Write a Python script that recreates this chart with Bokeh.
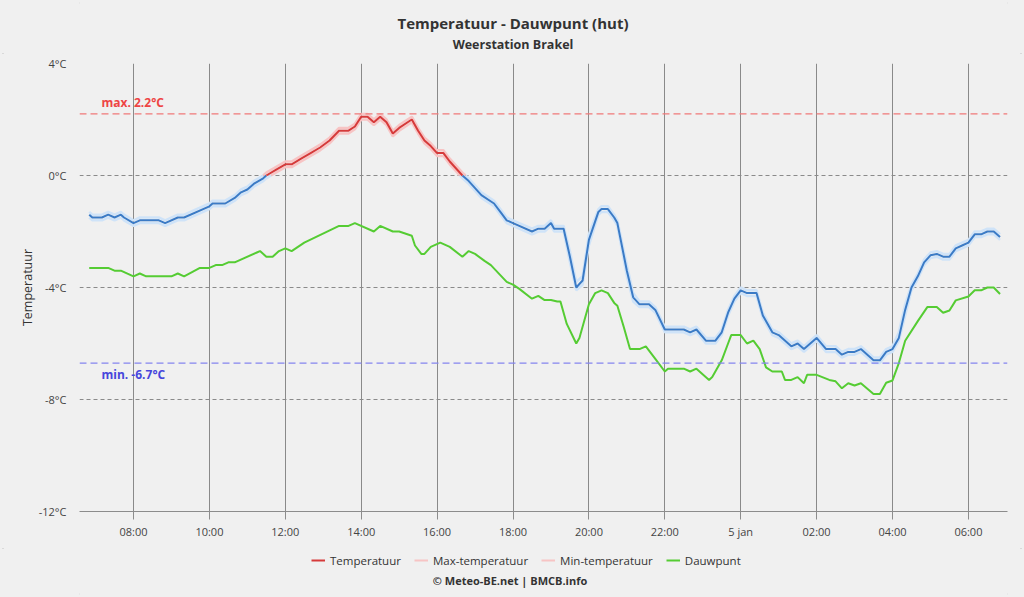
import numpy as np
from bokeh.plotting import figure
from bokeh.layouts import column
from bokeh.models import (Range1d, FixedTicker, PrintfTickFormatter, Span, Label,
                          Legend, LegendItem)
from bokeh.embed import file_html
from bokeh.resources import INLINE

# ---------------- data ----------------
title_text = "Temperatuur - Dauwpunt (hut)"
subtitle_text = "Weerstation Brakel"
credit_text = "© Meteo-BE.net | BMCB.info"
y_label = "Temperatuur"

tick_hours = [8, 10, 12, 14, 16, 18, 20, 22, 24, 26, 28, 30]
tick_labels = ["08:00", "10:00", "12:00", "14:00", "16:00", "18:00", "20:00",
               "22:00", "5 jan", "02:00", "04:00", "06:00"]
y_ticks = [-12, -8, -4, 0, 4]

temp_times = [
    "06:50", "06:55", "07:10", "07:20", "07:30", "07:40", "07:45", "08:00", "08:10", "08:40",
    "08:50", "09:10", "09:20", "10:00", "10:05", "10:25", "10:40", "10:50", "11:00", "11:10",
    "11:25", "11:30", "11:45", "12:00", "12:10", "12:25", "12:40", "12:55", "13:10", "13:25",
    "13:40", "13:50", "14:00", "14:10", "14:20", "14:30", "14:40", "14:50", "15:00", "15:20",
    "15:30", "15:40", "15:50", "16:00", "16:10", "16:20", "16:40", "16:50", "17:10", "17:30",
    "17:40", "17:50", "18:00", "18:30", "18:40", "18:50", "19:00", "19:05", "19:20", "19:30",
    "19:40", "19:50", "20:00", "20:15", "20:20", "20:30", "20:40", "20:45", "21:00", "21:10",
    "21:20", "21:35", "21:45", "22:00", "22:30", "22:40", "22:50", "23:05", "23:20", "23:30",
    "23:40", "23:50", "00:00", "00:10", "00:25", "00:35", "00:50", "01:00", "01:20", "01:30",
    "01:40", "02:00", "02:15", "02:30", "02:40", "02:50", "03:00", "03:10", "03:30", "03:40",
    "03:50", "04:00", "04:10", "04:20", "04:30", "04:40", "04:50", "05:00", "05:10", "05:20",
    "05:30", "05:40", "05:50", "06:00", "06:10", "06:20", "06:30", "06:40", "06:50",
]
temperatuur = [
    -1.4, -1.5, -1.5, -1.4, -1.5, -1.4, -1.5, -1.7, -1.6, -1.6,
    -1.7, -1.5, -1.5, -1.1, -1.0, -1.0, -0.8, -0.6, -0.5, -0.3,
    -0.1, 0.0, 0.2, 0.4, 0.4, 0.6, 0.8, 1.0, 1.25, 1.6,
    1.6, 1.75, 2.1, 2.1, 1.9, 2.1, 1.9, 1.5, 1.7, 2.0,
    1.6, 1.25, 1.05, 0.8, 0.8, 0.5, 0.0, -0.2, -0.7, -1.0,
    -1.3, -1.6, -1.7, -2.0, -1.9, -1.9, -1.7, -1.9, -1.9, -2.9,
    -4.0, -3.75, -2.3, -1.3, -1.2, -1.2, -1.5, -1.7, -3.4, -4.35,
    -4.6, -4.6, -4.8, -5.5, -5.5, -5.6, -5.5, -5.9, -5.9, -5.6,
    -4.9, -4.4, -4.1, -4.2, -4.2, -5.0, -5.6, -5.7, -6.1, -6.0,
    -6.2, -5.8, -6.2, -6.2, -6.4, -6.3, -6.3, -6.2, -6.6, -6.6,
    -6.3, -6.2, -5.8, -4.8, -4.0, -3.6, -3.1, -2.85, -2.8, -2.9,
    -2.9, -2.6, -2.5, -2.4, -2.1, -2.1, -2.0, -2.0, -2.2,
]
max_temperatuur = [
    -1.3, -1.4, -1.4, -1.3, -1.4, -1.3, -1.4, -1.6, -1.5, -1.5,
    -1.6, -1.4, -1.4, -1.0, -0.9, -0.9, -0.7, -0.5, -0.4, -0.2,
    0.0, 0.1, 0.3, 0.5, 0.5, 0.7, 0.9, 1.1, 1.35, 1.7,
    1.7, 1.85, 2.2, 2.2, 2.0, 2.2, 2.0, 1.6, 1.8, 2.1,
    1.7, 1.35, 1.15, 0.9, 0.9, 0.6, 0.1, -0.1, -0.6, -0.9,
    -1.2, -1.5, -1.6, -1.9, -1.8, -1.8, -1.6, -1.8, -1.8, -2.7,
    -3.8, -3.6, -2.1, -1.2, -1.1, -1.1, -1.4, -1.6, -3.2, -4.2,
    -4.5, -4.5, -4.7, -5.4, -5.4, -5.5, -5.4, -5.8, -5.8, -5.5,
    -4.8, -4.3, -4.0, -4.1, -4.1, -4.9, -5.5, -5.6, -6.0, -5.9,
    -6.1, -5.7, -6.1, -6.1, -6.3, -6.2, -6.2, -6.1, -6.5, -6.5,
    -6.2, -6.1, -5.6, -4.6, -3.9, -3.5, -3.0, -2.75, -2.7, -2.8,
    -2.8, -2.5, -2.4, -2.3, -2.0, -2.0, -1.9, -1.9, -2.1,
]
min_temperatuur = [
    -1.5, -1.6, -1.6, -1.5, -1.6, -1.5, -1.6, -1.8, -1.7, -1.7,
    -1.8, -1.6, -1.6, -1.2, -1.1, -1.1, -0.9, -0.7, -0.6, -0.4,
    -0.2, -0.1, 0.1, 0.3, 0.3, 0.5, 0.7, 0.9, 1.15, 1.5,
    1.5, 1.65, 2.0, 2.0, 1.8, 2.0, 1.8, 1.4, 1.6, 1.9,
    1.5, 1.15, 0.95, 0.7, 0.7, 0.4, -0.1, -0.3, -0.8, -1.1,
    -1.4, -1.7, -1.8, -2.1, -2.0, -2.0, -1.8, -2.0, -2.0, -3.1,
    -4.1, -3.9, -2.5, -1.4, -1.3, -1.3, -1.6, -1.8, -3.6, -4.5,
    -4.7, -4.7, -4.9, -5.6, -5.6, -5.7, -5.6, -6.0, -6.0, -5.7,
    -5.0, -4.5, -4.2, -4.3, -4.3, -5.1, -5.7, -5.8, -6.2, -6.1,
    -6.3, -5.9, -6.3, -6.3, -6.5, -6.4, -6.4, -6.3, -6.7, -6.7,
    -6.4, -6.3, -5.9, -5.0, -4.1, -3.7, -3.2, -2.95, -2.9, -3.0,
    -3.0, -2.7, -2.6, -2.5, -2.2, -2.2, -2.1, -2.1, -2.3,
]

dew_times = [
    "06:50", "07:20", "07:30", "07:40", "08:00", "08:10", "08:20", "09:00", "09:10", "09:20",
    "09:45", "10:00", "10:10", "10:20", "10:30", "10:40", "11:15", "11:20", "11:30", "11:40",
    "11:50", "12:00", "12:10", "12:30", "13:25", "13:40", "13:50", "14:20", "14:30", "14:50",
    "15:00", "15:20", "15:25", "15:35", "15:40", "15:50", "16:05", "16:20", "16:40", "16:50",
    "17:00", "17:15", "17:25", "17:50", "18:00", "18:10", "18:30", "18:40", "18:50", "19:00",
    "19:10", "19:15", "19:25", "19:40", "19:45", "20:00", "20:10", "20:20", "20:30", "20:40",
    "20:45", "20:55", "21:05", "21:20", "21:30", "21:45", "22:00", "22:05", "22:30", "22:40",
    "22:50", "23:10", "23:15", "23:30", "23:40", "23:45", "00:00", "00:10", "00:20", "00:30",
    "00:40", "00:50", "01:05", "01:10", "01:20", "01:30", "01:40", "01:45", "02:00", "02:20",
    "02:30", "02:40", "02:50", "03:00", "03:10", "03:30", "03:40", "03:50", "04:00", "04:10",
    "04:20", "04:40", "04:55", "05:10", "05:20", "05:30", "05:40", "06:00", "06:10", "06:20",
    "06:30", "06:40", "06:50",
]
dauwpunt = [
    -3.3, -3.3, -3.4, -3.4, -3.6, -3.5, -3.6, -3.6, -3.5, -3.6,
    -3.3, -3.3, -3.2, -3.2, -3.1, -3.1, -2.75, -2.7, -2.9, -2.9,
    -2.7, -2.6, -2.7, -2.4, -1.8, -1.8, -1.7, -2.0, -1.8, -2.0,
    -2.0, -2.15, -2.5, -2.8, -2.8, -2.55, -2.4, -2.55, -2.9, -2.7,
    -2.8, -3.05, -3.2, -3.8, -3.9, -4.05, -4.4, -4.3, -4.45, -4.45,
    -4.5, -4.5, -5.3, -6.0, -5.8, -4.6, -4.2, -4.1, -4.2, -4.55,
    -4.65, -5.4, -6.2, -6.2, -6.1, -6.55, -7.0, -6.9, -6.9, -7.0,
    -6.9, -7.3, -7.2, -6.6, -6.0, -5.7, -5.7, -6.0, -5.9, -6.2,
    -6.85, -7.0, -7.0, -7.3, -7.3, -7.2, -7.42, -7.12, -7.12, -7.3,
    -7.35, -7.6, -7.42, -7.5, -7.42, -7.8, -7.8, -7.4, -7.32, -6.7,
    -5.9, -5.2, -4.7, -4.7, -4.9, -4.82, -4.46, -4.32, -4.1, -4.1,
    -4.0, -4.0, -4.23,
]

max_value = 2.2
min_value = -6.7

# ---------------- helpers ----------------
def to_hours(times):
    out, day, prev = [], 0, None
    for t in times:
        h, m = map(int, t.split(":"))
        raw = h + m / 60.0
        if prev is not None and raw < prev:
            day += 24
        prev = raw
        out.append(raw + day)
    return np.array(out)


def split_zero(xs, ys):
    rx, ry = [], []
    for i in range(len(xs)):
        if i > 0 and ((ys[i - 1] < 0 < ys[i]) or (ys[i - 1] > 0 > ys[i])):
            t = ys[i - 1] / (ys[i - 1] - ys[i])
            rx.append(xs[i - 1] + t * (xs[i] - xs[i - 1]))
            ry.append(0.0)
        rx.append(xs[i])
        ry.append(ys[i])
    ry = np.array(ry, dtype=float)
    above = np.where(ry >= 0, ry, np.nan)
    below = np.where(ry <= 0, ry, np.nan)
    return np.array(rx), above, below


def blank_fig(h):
    f = figure(width=1024, height=h, output_backend="svg", toolbar_location=None,
               x_range=Range1d(0, 1), y_range=Range1d(0, 1),
               x_axis_location=None, y_axis_location=None, min_border=0,
               background_fill_color=BG, border_fill_color=BG)
    f.outline_line_color = None
    f.grid.visible = False
    return f


FONT = "Open Sans"
BG = "#f0f0f0"
RED = "#d63a3a"
BLUE = "#3b7bc6"
PINK = "#f7c4c4"
LBLUE = "#cfe3f8"
GREEN = "#55cc33"
FRAME_LEFT = 79   # the column aligns every frame with the main chart's frame

tx = to_hours(temp_times)
dx = to_hours(dew_times)

# ---------------- header ----------------
p_top = blank_fig(53)
p_top.add_layout(Label(x=512.5 - FRAME_LEFT, y=31, x_units="screen", y_units="screen",
                       text=title_text, text_font=FONT, text_font_size="15px",
                       text_font_style="bold", text_color="#333333",
                       text_align="center", text_baseline="middle"))
p_top.add_layout(Label(x=512.5 - FRAME_LEFT, y=9, x_units="screen", y_units="screen",
                       text=subtitle_text, text_font=FONT, text_font_size="12.5px",
                       text_font_style="bold", text_color="#333333",
                       text_align="center", text_baseline="middle"))

# ---------------- main chart ----------------
p_main = figure(width=1024, height=495, output_backend="svg", toolbar_location=None,
                x_range=Range1d(6.577, 31.03), y_range=Range1d(-12, 4),
                min_border_left=FRAME_LEFT, min_border_right=17, min_border_top=10,
                min_border_bottom=37, background_fill_color=BG, border_fill_color=BG)
p_main.outline_line_color = None

p_main.xaxis.ticker = FixedTicker(ticks=tick_hours)
p_main.xaxis.major_label_overrides = {h: lab for h, lab in zip(tick_hours, tick_labels)}
p_main.xaxis.axis_line_color = "#8c8c8c"
p_main.xaxis.major_tick_line_color = "#8c8c8c"
p_main.xaxis.major_tick_out = 8
p_main.xaxis.major_tick_in = 0
p_main.xaxis.minor_tick_line_color = None
p_main.xaxis.major_label_standoff = 4
p_main.xaxis.major_label_text_font = FONT
p_main.xaxis.major_label_text_font_size = "11px"
p_main.xaxis.major_label_text_color = "#444444"

p_main.yaxis.ticker = FixedTicker(ticks=y_ticks)
p_main.yaxis.formatter = PrintfTickFormatter(format="%d°C")
p_main.yaxis.axis_line_color = None
p_main.yaxis.major_tick_line_color = None
p_main.yaxis.minor_tick_line_color = None
p_main.yaxis.major_label_standoff = 7
p_main.yaxis.major_label_text_font = FONT
p_main.yaxis.major_label_text_font_size = "11px"
p_main.yaxis.major_label_text_color = "#444444"
p_main.yaxis.axis_label = y_label
p_main.yaxis.axis_label_text_font = FONT
p_main.yaxis.axis_label_text_font_style = "normal"
p_main.yaxis.axis_label_text_font_size = "12.5px"
p_main.yaxis.axis_label_text_color = "#333333"
p_main.yaxis.axis_label_standoff = 0

p_main.xgrid.grid_line_color = "#8a8a8a"
p_main.xgrid.grid_line_width = 1
p_main.ygrid.grid_line_color = "#8a8a8a"
p_main.ygrid.grid_line_dash = "4 3"
p_main.ygrid.grid_line_width = 1

p_main.add_layout(Span(location=max_value, dimension="width", line_color="#f07878",
                       line_dash="7 4", line_width=1.3))
p_main.add_layout(Span(location=min_value, dimension="width", line_color="#8484ee",
                       line_dash="7 4", line_width=1.3))
p_main.add_layout(Label(x=22, x_units="screen", y=max_value, y_offset=3,
                        text=f"max. {max_value}°C", text_font=FONT, text_font_size="12px",
                        text_font_style="bold", text_color="#ee4444",
                        text_baseline="bottom"))
p_main.add_layout(Label(x=22, x_units="screen", y=min_value, y_offset=-3,
                        text=f"min. {min_value}°C", text_font=FONT, text_font_size="12px",
                        text_font_style="bold", text_color="#4646dc",
                        text_baseline="top"))

mx, mx_a, mx_b = split_zero(tx, max_temperatuur)
mn, mn_a, mn_b = split_zero(tx, min_temperatuur)
p_main.line(mx, mx_b, line_color=LBLUE, line_width=2.5)
p_main.line(mx, mx_a, line_color=PINK, line_width=2.5)
p_main.line(mn, mn_b, line_color=LBLUE, line_width=2.5)
p_main.line(mn, mn_a, line_color=PINK, line_width=2.5)

ttx, t_a, t_b = split_zero(tx, temperatuur)
p_main.line(ttx, t_b, line_color=BLUE, line_width=2)
p_main.line(ttx, t_a, line_color=RED, line_width=2)

p_main.line(dx, dauwpunt, line_color=GREEN, line_width=2)

# ---------------- legend + credit ----------------
p_bot = blank_fig(49)
# legend proxies: lines lying outside the visible (0..1) range, only their style is used
proxy_x = [2, 3]
proxy_y = [2, 2]
lg_t = p_bot.line(proxy_x, proxy_y, line_color=RED, line_width=2)
lg_max = p_bot.line(proxy_x, proxy_y, line_color=PINK, line_width=2)
lg_min = p_bot.line(proxy_x, proxy_y, line_color=PINK, line_width=2)
lg_dew = p_bot.line(proxy_x, proxy_y, line_color=GREEN, line_width=2)
legend = Legend(items=[
    LegendItem(label="Temperatuur", renderers=[lg_t]),
    LegendItem(label="Max-temperatuur", renderers=[lg_max]),
    LegendItem(label="Min-temperatuur", renderers=[lg_min]),
    LegendItem(label="Dauwpunt", renderers=[lg_dew]),
], orientation="horizontal", location=(311 - FRAME_LEFT, 29), padding=2, margin=0,
    spacing=13, glyph_width=14, glyph_height=16, label_standoff=5,
    label_text_font=FONT, label_text_font_size="11.5px", label_text_color="#333333",
    background_fill_alpha=0, border_line_color=None, label_height=16)
p_bot.add_layout(legend)
p_bot.add_layout(Label(x=509.5 - FRAME_LEFT, y=17, x_units="screen", y_units="screen",
                       text=credit_text, text_font=FONT, text_font_size="11px",
                       text_font_style="bold", text_color="#333333",
                       text_align="center", text_baseline="middle"))

p = column(p_top, p_main, p_bot, spacing=0,
           styles={"background-color": BG, "outline": "2px solid #d2d2d2",
                   "outline-offset": "-4px"})

open("out.html", "w").write(file_html(p, INLINE))
